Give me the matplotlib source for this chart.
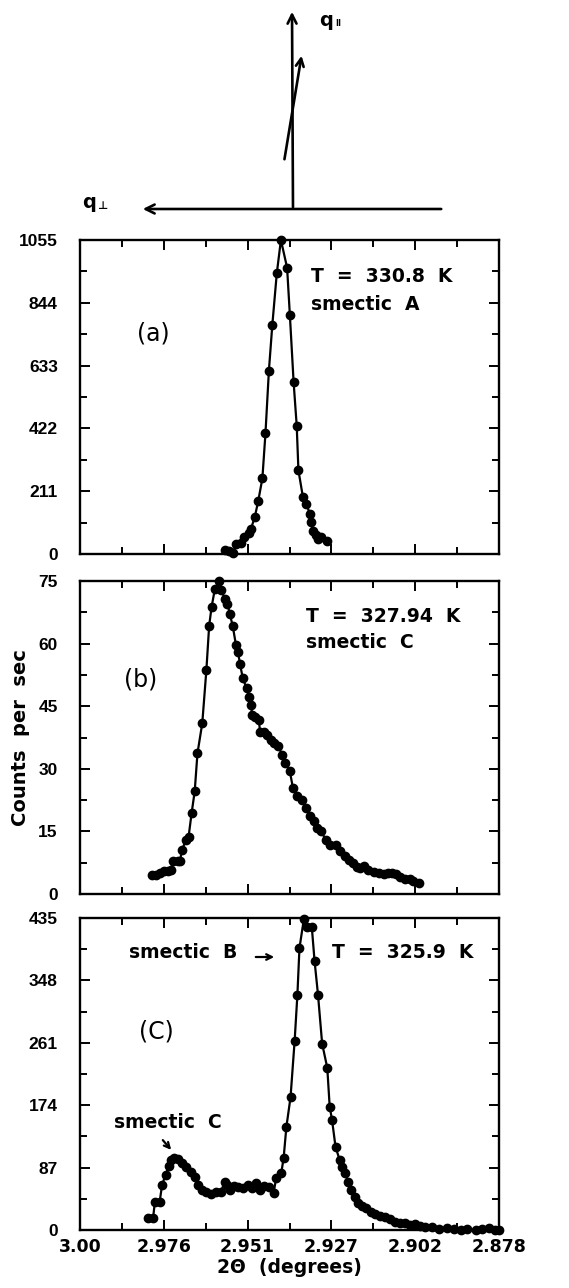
import numpy as np
import matplotlib
matplotlib.use("Agg")
import matplotlib.pyplot as plt
from matplotlib.ticker import MultipleLocator, FixedLocator

plt.rcParams['font.family'] = ['DejaVu Sans']

# ---------------- data ----------------
xa = [2.9577, 2.9565, 2.9554, 2.9546, 2.9531, 2.9523, 2.9509, 2.9502, 2.9491, 2.9481,
      2.9469, 2.9460, 2.9450, 2.9440, 2.9427, 2.9415, 2.9397, 2.9389, 2.9378, 2.9369,
      2.9364, 2.9351, 2.9341, 2.9331, 2.9327, 2.9322, 2.9313, 2.9306, 2.9298, 2.9282]
ya = [15, 11, 3, 34, 37, 56, 71, 85, 125, 178,
      254, 405, 616, 770, 943, 1055, 962, 804, 577, 431,
      281, 192, 169, 135, 107, 76, 63, 52, 56, 43]

xb = [2.9789, 2.9779, 2.9767, 2.9755, 2.9745, 2.9736, 2.9729, 2.9716, 2.9709, 2.9703,
      2.9691, 2.9684, 2.9675, 2.9666, 2.9658, 2.9644, 2.9632, 2.9624, 2.9617, 2.9607,
      2.9595, 2.9588, 2.9579, 2.9571, 2.9564, 2.9555, 2.9546, 2.9540, 2.9534, 2.9526,
      2.9515, 2.9508, 2.9503, 2.9498, 2.9489, 2.9479, 2.9476, 2.9465, 2.9455, 2.9445,
      2.9435, 2.9424, 2.9411, 2.9402, 2.9389, 2.9380, 2.9368, 2.9353, 2.9343, 2.9329,
      2.9319, 2.9310, 2.9297, 2.9285, 2.9271, 2.9256, 2.9242, 2.9229, 2.9218, 2.9205,
      2.9193, 2.9184, 2.9172, 2.9160, 2.9145, 2.9130, 2.9116, 2.9104, 2.9092, 2.9079,
      2.9068, 2.9055, 2.9040, 2.9029, 2.9014]
yb = [4.6, 4.5, 5.0, 5.4, 5.4, 5.8, 7.8, 8.0, 7.8, 10.6,
      13.0, 13.6, 19.4, 24.6, 33.7, 40.9, 53.7, 64.2, 68.7, 73.2,
      75.0, 72.8, 70.8, 69.6, 67.2, 64.1, 59.7, 58.0, 55.1, 51.7,
      49.3, 47.3, 45.3, 42.9, 42.5, 41.7, 38.9, 38.9, 38.1, 36.9,
      36.1, 35.5, 33.4, 31.4, 29.4, 25.4, 23.4, 22.6, 20.6, 18.6,
      17.4, 15.8, 15.0, 13.0, 11.8, 11.8, 10.2, 9.0, 8.2, 7.4,
      6.5, 6.2, 6.6, 5.8, 5.3, 5.0, 4.8, 5.0, 5.0, 4.8,
      4.0, 3.6, 3.7, 3.2, 2.6]

xc = [2.9803, 2.9787, 2.9782, 2.9768, 2.9761, 2.9751, 2.9741, 2.9736, 2.9727, 2.9715,
      2.9702, 2.9690, 2.9678, 2.9666, 2.9656, 2.9644, 2.9632, 2.9619, 2.9605, 2.9590,
      2.9578, 2.9571, 2.9563, 2.9553, 2.9539, 2.9524, 2.9512, 2.9500, 2.9488, 2.9475,
      2.9463, 2.9449, 2.9436, 2.9429, 2.9414, 2.9407, 2.9399, 2.9387, 2.9375, 2.9367,
      2.9361, 2.9348, 2.9338, 2.9325, 2.9317, 2.9307, 2.9295, 2.9280, 2.9273, 2.9266,
      2.9256, 2.9244, 2.9237, 2.9229, 2.9219, 2.9210, 2.9200, 2.9190, 2.9178, 2.9166,
      2.9153, 2.9141, 2.9126, 2.9112, 2.9097, 2.9083, 2.9068, 2.9053, 2.9039, 2.9024,
      2.9009, 2.8995, 2.8975, 2.8956, 2.8932, 2.8912, 2.8892, 2.8873, 2.8848, 2.8829,
      2.8810, 2.8793, 2.8780]
yc = [16.3, 17.2, 39.5, 39.5, 62.8, 76.8, 89.3, 97.7, 100.0, 98.6,
      94.0, 87.5, 81.4, 74.4, 62.8, 55.8, 53.5, 50.2, 53.5, 53.5,
      67.5, 62.8, 55.8, 61.4, 59.5, 58.2, 62.8, 58.2, 65.1, 55.8,
      61.4, 59.5, 52.1, 72.1, 79.1, 101.0, 144.0, 185.0, 264.0, 328.0,
      393.0, 434.0, 422.0, 422.0, 375.0, 328.0, 260.0, 226.0, 172.0, 153.0,
      116.0, 97.7, 88.4, 79.1, 67.5, 55.8, 46.5, 38.1, 33.5, 30.2,
      25.6, 22.3, 19.5, 17.7, 14.9, 11.6, 10.2, 9.3, 7.0, 8.4,
      5.6, 4.7, 4.7, 0.9, 2.3, 0.9, 0.0, 0.9, 0.0, 0.9,
      2.3, 0.0, 0.0]

x_ticks = [3.000, 2.9756, 2.9512, 2.9268, 2.9024, 2.878]
x_ticklabels = ['3.00', '2.976', '2.951', '2.927', '2.902', '2.878']
ymax = [1055, 75, 435]
panel_labels = ['(a)', '(b)', '(C)']

# ---------------- figure ----------------
W, H = 569, 1288
fig = plt.figure(figsize=(W / 100, H / 100), dpi=100)

def fx(px):
    return px / W

def fy(py):
    return 1 - py / H

left, right = 80, 499
boxes = [(240, 554), (581, 894), (918, 1230)]
datasets = [(xa, ya), (xb, yb), (xc, yc)]
axes = []
for i, ((top, bot), (xs, ys)) in enumerate(zip(boxes, datasets)):
    ax = fig.add_axes([fx(left), fy(bot), fx(right) - fx(left), (bot - top) / H])
    ax.plot(xs, ys, '-o', color='black', lw=1.6, ms=6, mfc='black', mec='black',
            clip_on=False)
    ax.set_xlim(3.0, 2.878)
    ax.set_ylim(0, ymax[i])
    ax.set_yticks(np.linspace(0, ymax[i], 6))
    ax.set_yticklabels([str(int(round(v))) for v in np.linspace(0, ymax[i], 6)],
                       fontfamily='Liberation Sans', fontweight='bold', fontsize=12.5)
    ax.yaxis.set_minor_locator(MultipleLocator(ymax[i] / 10))
    ax.xaxis.set_major_locator(FixedLocator(x_ticks))
    mids = [(x_ticks[k] + x_ticks[k + 1]) / 2 for k in range(5)]
    ax.xaxis.set_minor_locator(FixedLocator(mids))
    ax.tick_params(which='both', direction='in', top=True, right=True, width=1.4)
    ax.tick_params(which='major', length=7)
    ax.tick_params(which='minor', length=5)
    ax.tick_params(axis='y', which='major', pad=16)
    if i == 2:
        ax.set_xticklabels(x_ticklabels, fontsize=12.5, fontweight='bold')
        ax.tick_params(axis='x', which='major', pad=6)
        ax.set_xlabel('2Θ  (degrees)', fontsize=13.5, fontweight='bold', labelpad=1)
    else:
        ax.set_xticklabels([])
    for s in ax.spines.values():
        s.set_linewidth(1.7)
    axes.append(ax)

axa, axb, axc = axes
axb.set_ylabel('Counts  per  sec', fontsize=14, fontweight='bold', labelpad=6)

def ax_pt(box, px, py):
    return ((px - left) / (right - left), (box[1] - py) / (box[1] - box[0]))

def txt(ax, box, px, py, s, **kw):
    x, y = ax_pt(box, px, py)
    ax.text(x, y, s, transform=ax.transAxes, **kw)

bold = dict(fontsize=13.5, fontweight='bold', va='center', ha='left')
lab = dict(fontsize=17, va='center', ha='left')
txt(axa, boxes[0], 311, 276, 'T  =  330.8  K', **bold)
txt(axa, boxes[0], 311, 304, 'smectic  A', **bold)
txt(axa, boxes[0], 137, 333, '(a)', **lab)

txt(axb, boxes[1], 306, 617, 'T  =  327.94  K', **bold)
txt(axb, boxes[1], 306, 643, 'smectic  C', **bold)
txt(axb, boxes[1], 124, 679, '(b)', **lab)

txt(axc, boxes[2], 129, 953, 'smectic  B', **bold)
txt(axc, boxes[2], 332, 953, 'T  =  325.9  K', **bold)
txt(axc, boxes[2], 139, 1031, '(C)', **lab)
txt(axc, boxes[2], 114, 1123, 'smectic  C', **bold)

a1 = ax_pt(boxes[2], 253, 957)
a0 = ax_pt(boxes[2], 277, 957)
axc.annotate('', xy=a0, xytext=a1, xycoords='axes fraction', textcoords='axes fraction',
             arrowprops=dict(arrowstyle='->', lw=1.6, color='black', mutation_scale=10))
b1 = ax_pt(boxes[2], 161, 1138)
b0 = ax_pt(boxes[2], 173, 1152)
axc.annotate('', xy=b0, xytext=b1, xycoords='axes fraction', textcoords='axes fraction',
             arrowprops=dict(arrowstyle='->', lw=1.6, color='black', mutation_scale=10))

# ---------------- top diagram ----------------
dg = fig.add_axes([0, fy(232), 1, 232 / H])
dg.set_xlim(0, W)
dg.set_ylim(232, 0)
dg.axis('off')
arrow_kw = dict(arrowstyle='->', lw=1.9, color='black', mutation_scale=16)
dg.annotate('', xy=(292, 9), xytext=(293, 210), arrowprops=arrow_kw)
dg.annotate('', xy=(140, 209), xytext=(444, 209), arrowprops=arrow_kw)
dg.annotate('', xy=(302, 53), xytext=(284, 162),
            arrowprops=dict(arrowstyle='->', lw=1.9, color='black', mutation_scale=14))
dg.text(319, 20, 'q', fontsize=14, fontweight='bold', va='center', ha='left')
dg.text(335, 23, 'II', fontsize=6, fontweight='bold', va='center', ha='left')
dg.text(82, 202, 'q', fontsize=14, fontweight='bold', va='center', ha='left')
dg.text(97, 206, '⊥', fontsize=8, fontweight='bold', va='center', ha='left')

fig.savefig('out.png', dpi=100)
